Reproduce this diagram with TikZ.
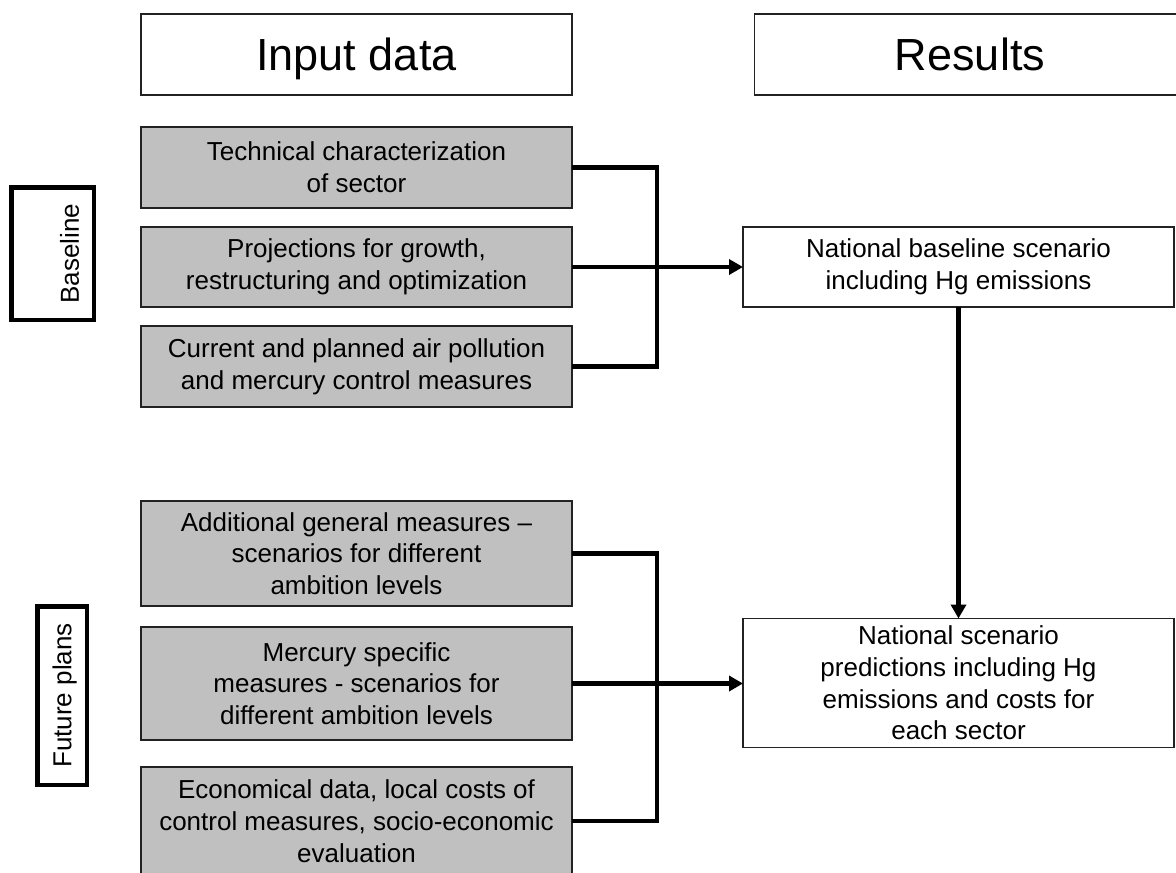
\documentclass[tikz,border=0pt]{standalone}
\usepackage{fontspec}
\setmainfont{Liberation Sans}
\usetikzlibrary{arrows.meta}
\definecolor{boxgray}{HTML}{C0C0C0}
\definecolor{edge}{HTML}{222222}
\begin{document}
\begin{tikzpicture}[x=1pt,y=-1pt,
  every node/.style={inner sep=0pt, outer sep=0pt},
  head/.style={draw=edge, line width=1.5pt, fill=white, minimum width=431pt, minimum height=81pt, font=\fontsize{45}{54}\selectfont, text depth=0pt},
  inbox/.style={draw=edge, line width=1.5pt, fill=boxgray, minimum width=431pt, align=center, font=\fontsize{26}{31.7}\selectfont},
  resbox/.style={draw=edge, line width=1.5pt, fill=white, minimum width=431pt, align=center, font=\fontsize{26}{31.7}\selectfont},
  tagbox/.style={draw=black, line width=4.5pt, fill=white, rotate=90, font=\fontsize{26}{31}\selectfont, text depth=0pt},
  conn/.style={line width=4.3pt, draw=black},
  arr/.style={conn, -{Triangle[length=14pt,width=15pt]}},
]
\useasboundingbox (0,0) rectangle (1176,873);

\node[head] (hin) at (356.5,54.5) {Input data};
\node[head] (hres) at (970,54.5) {Results};

\node[inbox, minimum height=81pt] (b1) at (356.5,167.5) {Technical characterization\\of sector};
\node[inbox, minimum height=80pt] (b2) at (356.5,267) {Projections for growth,\\restructuring and optimization};
\node[inbox, minimum height=81pt] (b3) at (356.5,366.5) {Current and planned air pollution\\and mercury control measures};
\node[inbox, minimum height=105pt] (b4) at (356.5,553.5) {Additional general measures –\\scenarios for different\\ambition levels};
\node[inbox, minimum height=113pt] (b5) at (356.5,683.5) {Mercury specific\\measures - scenarios for\\different ambition levels};
\node[inbox, minimum height=108pt] (b6) at (356.5,821) {Economical data, local costs of\\control measures, socio-economic\\evaluation};

\node[resbox, minimum height=80pt] (r1) at (958.5,267) {National baseline scenario\\including Hg emissions};
\node[resbox, minimum height=129pt] (r2) at (958.5,683) {National scenario\\predictions including Hg\\emissions and costs for\\each sector};

\node[tagbox, minimum width=132.5pt, minimum height=82.5pt, text height=52.6pt] (tb) at (52.5,253.5) {Baseline};
\node[tagbox, minimum width=178.5pt, minimum height=49.5pt, text height=18.6pt] (tf) at (62,695.5) {Future plans};

\coordinate (jx) at (657,0);
\draw[conn] (b1.east) -- (b1.east -| jx) -- (b3.east -| jx) -- (b3.east);
\draw[arr] (b2.east) -- (r1.west);
\draw[conn] (b4.east) -- (b4.east -| jx) -- (b6.east -| jx) -- (b6.east);
\draw[arr] (b5.east) -- (b5.east -| r2.west);
\draw[arr] (r1.south) -- (r2.north);
\end{tikzpicture}
\end{document}
